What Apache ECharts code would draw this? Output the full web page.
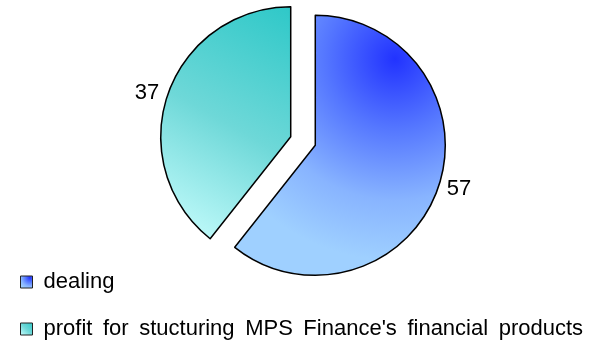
<!DOCTYPE html>
<html>
<head>
<meta charset="utf-8">
<script src="https://cdn.jsdelivr.net/npm/echarts@6/dist/echarts.min.js"></script>
<style>
  html, body { margin: 0; padding: 0; background: #fff; }
  #chart { width: 596px; height: 342px; }
</style>
</head>
<body>
<div id="chart"></div>
<script>
// Revenue split by source
const categories = ['dealing', "profit for stucturing MPS Finance's financial products"];
const values = [57, 37];

const blueFill = {
  type: 'radial', x: 0.76, y: 0.17, r: 0.95,
  colorStops: [
    { offset: 0, color: '#2233ff' },
    { offset: 0.35, color: '#5577ff' },
    { offset: 0.7, color: '#88b4ff' },
    { offset: 1, color: '#9fd0ff' }
  ]
};
const tealFill = {
  type: 'linear', x: 1, y: 0, x2: 0, y2: 1,
  colorStops: [
    { offset: 0, color: '#2ec8c8' },
    { offset: 0.5, color: '#6ed8d8' },
    { offset: 1, color: '#ccffff' }
  ]
};
const fills = [blueFill, tealFill];

// one legend row per category, stacked under the pie
const legendTops = [271, 310];
const legendRow = (name, i) => ({
  orient: 'vertical',
  left: 20,
  top: legendTops[i],
  padding: 0,
  itemWidth: 12,
  itemHeight: 12,
  icon: 'rect',
  selectedMode: false,
  itemStyle: { borderColor: '#222', borderWidth: 1 },
  // wider word spacing between legend words
  formatter: (n) => n.split(' ').join('{sp| }'),
  textStyle: {
    fontFamily: 'Liberation Sans', fontSize: 22, lineHeight: 22,
    color: '#000', padding: [0, 0, 0, 6],
    rich: { sp: { fontFamily: 'Liberation Sans', fontSize: 38, lineHeight: 22 } }
  },
  data: [name]
});

const chart = echarts.init(document.getElementById('chart'), null, { renderer: 'canvas' });
chart.setOption({
  animation: false,
  backgroundColor: '#ffffff',
  legend: categories.map(legendRow),
  series: [{
    type: 'pie',
    center: [303, 141],
    radius: [0, 130],
    startAngle: 90,
    clockwise: true,
    selectedMode: 'multiple',
    selectedOffset: 13,
    avoidLabelOverlap: false,
    label: {
      show: true,
      position: 'outside',
      formatter: '{c}',
      fontFamily: 'Liberation Sans',
      fontSize: 22,
      color: '#000'
    },
    labelLine: { show: false, length: 4, length2: 0 },
    itemStyle: { borderColor: '#000', borderWidth: 1.5 },
    emphasis: { disabled: true },
    data: categories.map((name, i) => ({
      name: name,
      value: values[i],
      selected: true,
      itemStyle: { color: fills[i] }
    }))
  }]
});
</script>
</body>
</html>
